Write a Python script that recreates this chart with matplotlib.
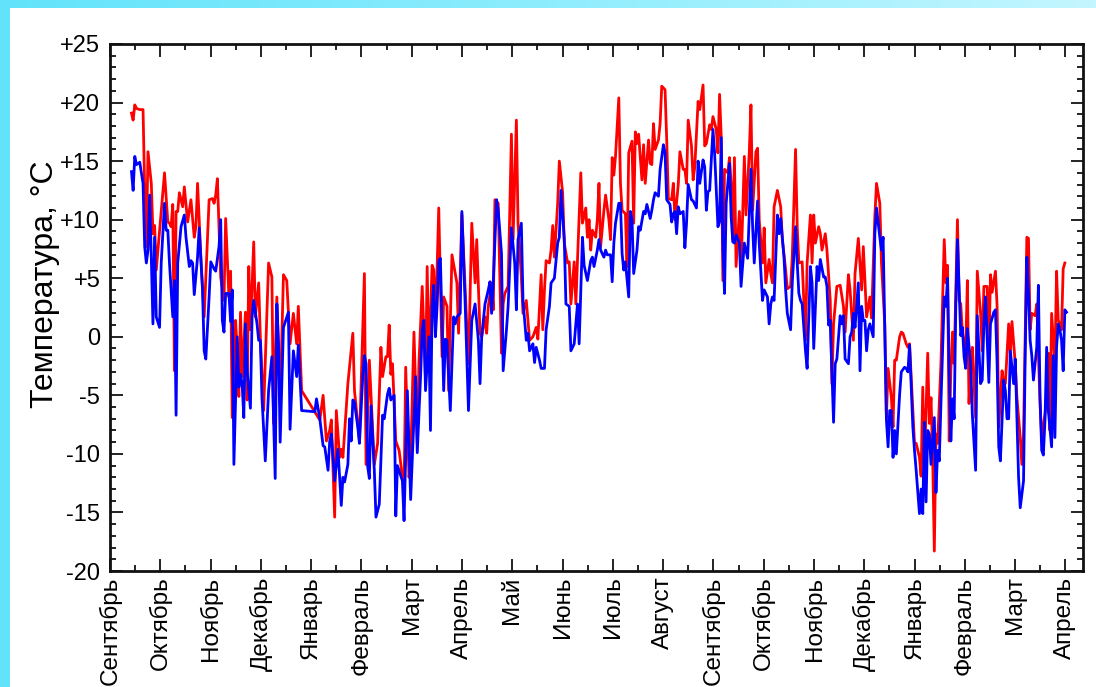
import numpy as np
import matplotlib.pyplot as plt
from matplotlib.colors import LinearSegmentedColormap
from matplotlib.patches import Rectangle
from matplotlib.ticker import FixedLocator, MultipleLocator

plt.rcParams["font.family"] = ["Liberation Sans", "DejaVu Sans"]

MONTHS = ["Сентябрь", "Октябрь", "Ноябрь", "Декабрь", "Январь", "Февраль",
          "Март", "Апрель", "Май", "Июнь", "Июль", "Август", "Сентябрь",
          "Октябрь", "Ноябрь", "Декабрь", "Январь", "Февраль", "Март", "Апрель"]
DAYS_PER_MONTH = 30.44

# (day since 1 Sept, temperature degC)
RED = [
    (13, 19.1), (14, 18.5), (15, 19.8), (16, 19.5), (18, 19.4), (20, 19.4), (21, 12.5), (22, 7.7),
    (23, 15.8), (25, 13.1), (26, 8.8), (27, 9.5), (28, 5.7), (33, 14.0), (35, 9.8), (36, 9.7),
    (37, 9.4), (38, 11.3), (39, -2.9), (40, 10.7), (41, 10.7), (42, 12.3), (44, 11.1), (45, 12.8),
    (47, 9.8), (49, 11.7), (51, 8.5), (52, 9.4), (53, 13.1), (55, 6.8), (57, 1.7), (60, 11.7),
    (62, 11.8), (63, 11.4), (64, 12.1), (65, 13.5), (67, 5.1), (69, 3.1), (70, 10.1), (72, 3.4),
    (73, 5.6), (74, -6.9), (76, 1.4), (77, -1.2), (78, -5.1), (79, 2.1), (80, -3.4), (82, 2.1),
    (83, -5.4), (84, 6.0), (85, 0.6), (87, 8.1), (88, 1.7), (90, 4.6), (91, 0.0), (93, -6.3),
    (96, 6.3), (98, 5.1), (99, -7.4), (101, 3.4), (103, -5.7), (105, 5.3), (107, 4.8), (109, -0.6),
    (111, 2.0), (113, -0.6), (114, 2.6), (116, -4.6), (127, -7.1), (129, -5.0), (131, -8.9),
    (133, -8.0), (134, -7.1), (136, -15.4), (137, -6.3), (139, -10.3), (140, -9.6), (141, -10.3),
    (144, -4.0), (147, 0.3), (148, -4.6), (151, -8.9), (154, 5.4), (155, -10.9), (157, -2.0),
    (159, -8.0), (160, -10.9), (162, -9.1), (164, -0.9), (165, -3.4), (167, -1.7), (168, -1.7),
    (169, 1.0), (170, -3.2), (171, -2.3), (173, -8.9), (175, -9.7), (178, -13.1), (179, -2.6),
    (181, -12.0), (182, -10.6), (184, 0.4), (186, -9.1), (187, -2.3), (189, 4.3), (191, -3.7),
    (192, 6.0), (193, -2.3), (195, 6.1), (196, 5.7), (197, 0.6), (199, 11.0), (201, -1.7),
    (202, 3.4), (204, 2.6), (205, -4.6), (207, 7.0), (209, 5.4), (210, 4.6), (211, 0.3),
    (213, 10.5), (215, 4.0), (217, -2.3), (219, 9.7), (221, 4.6), (222, 8.3), (224, 0.3),
    (225, 0.0), (227, 1.7), (228, 0.3), (229, 2.6), (231, 4.6), (232, 2.3), (233, 11.7),
    (235, 11.4), (237, -1.4), (238, 2.8), (239, 3.7), (241, 4.3), (243, 17.3), (244, 8.3),
    (246, 18.5), (247, 9.7), (249, 5.1), (250, 2.0), (252, 3.1), (254, -0.3), (256, 0.0),
    (258, 0.8), (259, -0.2), (261, 5.3), (262, 0.6), (263, 4.0), (264, 6.5), (266, 6.3),
    (267, 7.4), (268, 9.5), (269, 6.8), (271, 11.4), (272, 15.0), (274, 12.3), (275, 8.0),
    (277, 6.3), (278, 6.4), (279, 2.8), (281, 6.4), (282, 2.8), (285, 14.0), (286, 9.7),
    (288, 11.0), (289, 8.5), (290, 10.0), (291, 7.4), (292, 9.1), (294, 8.5), (295, 10.0),
    (296, 13.1), (297, 7.7), (299, 10.8), (300, 12.1), (302, 10.0), (303, 8.3), (304, 15.3),
    (305, 13.8), (306, 15.4), (308, 20.4), (309, 13.1), (310, 10.8), (312, 10.5), (313, 6.0),
    (314, 15.7), (316, 16.7), (317, 9.7), (318, 17.5), (319, 16.5), (320, 17.3), (322, 13.4),
    (323, 16.4), (324, 13.1), (326, 16.8), (327, 14.8), (328, 14.7), (329, 18.2), (330, 16.0),
    (332, 16.8), (333, 18.2), (334, 21.4), (336, 21.1), (337, 16.8), (338, 11.8), (340, 11.7),
    (341, 13.1), (342, 10.0), (344, 13.0), (345, 15.8), (347, 14.3), (348, 14.3), (349, 13.1),
    (350, 18.5), (352, 16.3), (353, 13.4), (354, 14.5), (356, 20.1), (357, 19.4), (359, 21.5),
    (360, 16.3), (361, 16.5), (363, 18.1), (364, 17.7), (365, 18.8), (367, 17.7), (368, 15.7),
    (369, 20.7), (370, 17.1), (371, 4.8), (372, 14.3), (374, 14.0), (375, 15.3), (376, 13.1),
    (377, 8.3), (378, 15.3), (379, 6.0), (381, 10.7), (382, 5.7), (384, 15.4), (385, 10.4),
    (387, 15.8), (388, 19.8), (389, 10.8), (391, 15.8), (392, 16.1), (393, 10.0), (395, 6.3),
    (396, 9.3), (397, 4.6), (399, 6.6), (400, 5.4), (401, 4.6), (402, 11.1), (404, 12.5),
    (406, 11.1), (407, 8.3), (409, 5.7), (410, 4.1), (412, 4.3), (413, 6.8), (415, 16.0),
    (416, 9.4), (417, 6.3), (419, 6.4), (420, 3.1), (421, -0.3), (422, 6.3), (424, 10.4),
    (425, 6.3), (426, 10.4), (427, 8.0), (429, 9.4), (430, 8.8), (431, 7.4), (433, 8.8),
    (434, 7.4), (436, 3.1), (437, -4.0), (438, 1.1), (440, 4.3), (442, 4.4), (444, 2.6),
    (445, 0.4), (447, 5.3), (448, 4.0), (450, -0.3), (451, 5.4), (453, 8.4), (455, 4.0),
    (456, 7.7), (457, 4.8), (458, 1.7), (460, 3.4), (461, 1.6), (463, 10.3), (464, 13.1),
    (466, 11.4), (467, 6.3), (469, 1.1), (470, -6.9), (471, -2.7), (473, -5.2), (474, -7.7),
    (475, -2.0), (476, -2.0), (478, 0.0), (479, 0.4), (480, 0.3), (482, -0.6), (483, -0.9),
    (484, -0.6), (486, -6.3), (487, -9.1), (488, -9.1), (490, -10.3), (491, -11.9), (492, -4.3),
    (493, -11.1), (495, -1.4), (496, -7.4), (497, -5.2), (498, -10.3), (499, -18.3), (500, -8.3),
    (501, -9.1), (503, -2.3), (504, 3.1), (505, 8.3), (506, 4.6), (507, 6.1), (508, -8.9),
    (509, -2.9), (510, 0.4), (511, -2.3), (513, 10.0), (514, 3.1), (515, 2.8), (516, 0.3),
    (518, -1.2), (519, 4.8), (520, -5.7), (521, -2.3), (522, -0.9), (524, -6.9), (525, 5.6),
    (527, 2.0), (528, -1.2), (529, 4.3), (531, 4.3), (532, -1.4), (533, 5.3), (534, 3.8),
    (536, 5.6), (537, 2.6), (538, -7.7), (540, -2.9), (541, -4.0), (542, -4.0), (544, 1.1),
    (545, -1.4), (546, 1.3), (548, -2.3), (549, -5.2), (551, -8.6), (552, -10.9), (553, -8.3),
    (555, 8.5), (556, 8.4), (557, 0.6), (558, 2.0), (560, 1.8), (561, 2.8), (563, -5.7),
    (564, -8.6), (566, -6.6), (567, -5.2), (568, -1.4), (569, -8.0), (570, 2.0), (572, -2.3),
    (573, 5.6), (574, 1.4), (575, 1.1), (576, 0.6), (577, 5.8), (578, 6.3),
]

BLUE = [
    (13, 14.1), (14, 12.5), (15, 15.4), (16, 14.7), (18, 14.9), (20, 13.1), (21, 7.7), (22, 6.3),
    (23, 7.4), (24, 12.1), (25, 6.8), (26, 1.1), (27, 8.5), (28, 1.7), (30, 0.8), (31, 6.3),
    (33, 11.4), (34, 9.1), (35, 9.1), (36, 6.3), (38, 1.7), (39, 4.8), (40, -6.7), (41, 6.3),
    (43, 9.4), (45, 10.4), (46, 8.5), (48, 6.0), (49, 6.5), (50, 6.3), (51, 3.6), (53, 6.8),
    (54, 9.3), (56, 4.0), (57, -1.2), (58, -1.9), (60, 3.4), (61, 6.4), (63, 5.8), (64, 5.6),
    (66, 7.7), (67, 10.0), (68, 1.4), (69, 0.4), (70, 3.7), (72, 3.7), (73, 1.3), (74, 4.0),
    (75, -10.9), (77, 0.0), (78, -4.3), (79, -3.2), (80, -4.0), (81, -6.9), (82, 1.1), (83, -2.9),
    (85, -6.1), (86, 1.7), (87, 3.1), (89, 1.1), (90, -0.3), (91, -0.3), (92, -5.2), (94, -10.6),
    (96, -4.6), (98, -1.7), (100, -12.1), (101, 2.8), (102, -0.6), (103, -9.0), (105, 0.8),
    (108, 2.1), (109, -7.9), (111, -1.2), (113, -3.4), (114, -0.7), (116, -6.3), (124, -6.4),
    (125, -5.3), (127, -7.0), (129, -9.3), (130, -9.4), (132, -11.4), (133, -8.9), (134, -8.3),
    (136, -12.3), (138, -9.6), (140, -14.4), (141, -12.0), (142, -12.4), (144, -10.9), (145, -7.0),
    (146, -8.9), (147, -5.4), (148, -5.6), (150, -7.7), (151, -9.1), (153, -3.4), (154, -1.6),
    (155, -2.3), (156, -11.1), (157, -12.1), (158, -5.9), (160, -11.4), (161, -15.4), (163, -14.3),
    (165, -6.7), (166, -7.0), (168, -4.9), (169, -4.4), (170, -5.4), (172, -5.0), (173, -15.3),
    (174, -11.0), (177, -12.3), (178, -15.7), (180, -4.6), (182, -13.9), (185, -3.4), (186, -9.9),
    (188, -3.4), (189, 0.6), (190, 1.4), (191, -4.6), (193, 0.0), (194, -8.0), (195, 2.6),
    (196, 4.4), (197, 0.0), (198, 2.6), (199, 6.5), (200, 6.7), (202, -4.6), (203, -0.2),
    (204, -0.3), (206, -6.3), (208, 1.7), (209, 1.1), (210, 1.7), (212, 2.0), (213, 10.7),
    (215, 2.8), (217, -6.3), (219, 1.4), (221, 2.8), (223, -0.3), (224, -4.0), (225, 0.0),
    (227, 2.8), (229, 4.0), (230, 4.7), (231, 2.0), (232, 4.6), (234, 11.7), (235, 10.8),
    (237, 7.1), (238, -2.9), (240, 0.6), (241, 2.6), (243, 9.3), (245, 6.3), (246, 2.3),
    (247, 8.3), (249, 9.7), (250, 3.1), (252, -0.3), (253, 0.3), (254, -1.2), (256, -0.6),
    (257, -2.2), (258, -0.9), (260, -2.0), (261, -2.7), (263, -2.7), (264, 0.6), (266, 2.6),
    (267, 4.6), (269, 5.0), (271, 8.0), (272, 8.5), (273, 12.5), (275, 8.3), (276, 2.8),
    (278, 2.6), (279, -1.2), (281, -0.6), (283, 2.8), (284, -0.6), (286, 8.5), (287, 6.1),
    (289, 4.8), (291, 6.5), (292, 6.8), (293, 6.0), (295, 7.4), (296, 8.3), (297, 7.4),
    (299, 6.8), (300, 7.4), (301, 7.0), (303, 7.0), (304, 4.7), (305, 8.0), (306, 9.7),
    (308, 11.4), (309, 11.4), (310, 7.1), (311, 5.7), (312, 6.4), (314, 3.4), (315, 10.7),
    (316, 10.0), (317, 5.4), (319, 7.4), (320, 9.4), (321, 9.1), (323, 10.7), (324, 10.5),
    (325, 11.3), (327, 10.1), (328, 10.8), (329, 11.7), (330, 12.3), (332, 12.0), (333, 14.3),
    (335, 16.4), (336, 15.7), (337, 11.7), (339, 11.3), (340, 9.8), (341, 10.5), (342, 10.7),
    (343, 8.8), (344, 11.1), (345, 10.5), (347, 10.7), (348, 7.6), (349, 9.7), (350, 13.0),
    (352, 11.7), (353, 11.6), (355, 11.0), (356, 15.0), (357, 13.1), (359, 15.1), (360, 14.5),
    (361, 10.8), (362, 12.4), (363, 12.5), (365, 17.7), (366, 15.7), (367, 12.5), (368, 9.4),
    (369, 9.8), (370, 17.0), (371, 7.7), (372, 3.7), (373, 11.4), (375, 14.8), (376, 10.3),
    (377, 8.1), (378, 8.0), (379, 8.7), (381, 8.0), (382, 4.3), (384, 8.0), (386, 6.7),
    (387, 10.5), (388, 14.3), (389, 9.4), (390, 6.3), (392, 11.6), (393, 8.0), (395, 3.1),
    (396, 4.0), (398, 3.4), (399, 1.1), (400, 2.8), (401, 3.4), (402, 3.1), (404, 10.4),
    (405, 8.8), (406, 10.1), (408, 6.8), (409, 4.0), (410, 2.0), (412, 0.6), (413, 4.6),
    (415, 9.4), (416, 6.3), (417, 3.7), (418, 3.1), (419, 2.8), (421, -1.2), (422, -2.7),
    (424, 6.0), (425, 4.6), (426, -1.0), (428, 6.0), (429, 4.8), (430, 6.6), (432, 5.1),
    (433, 5.1), (434, 4.3), (435, 1.0), (436, 1.4), (437, -2.9), (438, -7.3), (439, -2.3),
    (440, -1.9), (442, 1.8), (443, 1.1), (444, 1.8), (445, -1.9), (447, -2.3), (448, 0.0),
    (449, 0.4), (450, 2.0), (451, 0.8), (453, 4.6), (454, -2.9), (455, 2.6), (456, 1.4),
    (457, 1.4), (458, -1.2), (459, 0.6), (460, 1.1), (462, 0.0), (463, 8.8), (464, 11.0),
    (466, 8.5), (467, 7.4), (468, 8.5), (469, 0.6), (470, -7.1), (471, -9.4), (472, -6.3),
    (473, -6.3), (474, -10.3), (475, -8.0), (476, -10.0), (478, -4.9), (479, -3.0), (481, -2.6),
    (482, -2.7), (483, -3.0), (484, -0.7), (486, -7.7), (487, -9.7), (488, -11.4), (490, -15.1),
    (491, -13.0), (492, -15.1), (493, -7.3), (494, -14.1), (495, -8.0), (496, -8.3), (497, -10.9),
    (499, -6.9), (500, -13.3), (501, -9.7), (502, -10.6), (503, -5.7), (505, 3.4), (506, 2.6),
    (507, 5.0), (508, -2.9), (509, -8.9), (510, -5.3), (511, -7.0), (512, 2.6), (513, 8.3),
    (515, 0.1), (516, 0.8), (517, -1.7), (518, -2.7), (519, 0.7), (521, -2.3), (522, -6.6),
    (524, -11.4), (525, 1.8), (527, -4.0), (528, -3.7), (529, 1.1), (530, 3.4), (532, -3.9),
    (533, 1.1), (535, 2.1), (536, 2.3), (537, -2.3), (538, -9.4), (539, -10.6), (541, -3.7),
    (542, -4.6), (543, -7.0), (544, -7.0), (545, -1.2), (547, -4.0), (548, -1.9), (549, -6.9),
    (550, -12.0), (551, -14.6), (553, -12.3), (554, -1.7), (555, 6.8), (556, 3.7), (557, -0.3),
    (558, -1.6), (559, -3.7), (561, -0.9), (562, 4.4), (563, -5.2), (564, -9.7), (565, -10.1),
    (566, -7.1), (567, -0.9), (568, -6.3), (570, -9.4), (571, -1.6), (572, -8.6), (573, -0.9),
    (574, 1.1), (575, 0.6), (576, -0.3), (577, -2.9), (578, 2.3), (579, 2.1),
]

Y_TICKS = list(range(-20, 26, 5))


def main() -> None:
    red_day, red_temp = map(np.array, zip(*RED))
    blue_day, blue_temp = map(np.array, zip(*BLUE))

    W, H = 1096, 687
    fig = plt.figure(figsize=(W / 100, H / 100), dpi=100)
    fig.patch.set_facecolor("white")

    # cyan frame: left strip and top gradient band
    fig.patches.append(Rectangle((0, 0), 10 / W, 1, transform=fig.transFigure,
                                 facecolor="#62e3fb", edgecolor="none", zorder=0))
    band = fig.add_axes([0, 1 - 8 / H, 1, 8 / H])
    cmap = LinearSegmentedColormap.from_list("band", ["#62e3fb", "#8eedfd", "#c4f6ff"])
    band.imshow(np.linspace(0, 1, 256)[None, :], aspect="auto", cmap=cmap)
    band.axis("off")

    ax = fig.add_axes([110 / W, 1 - 571 / H, 973 / W, 527 / H])
    ax.plot(red_day, red_temp, color="#ff0000", lw=2.0, solid_joinstyle="round")
    ax.plot(blue_day, blue_temp, color="#0000ff", lw=2.0, solid_joinstyle="round")

    month_pos = np.arange(len(MONTHS)) * DAYS_PER_MONTH
    ax.set_xlim(0, 589)
    ax.set_ylim(-20, 25)
    ax.set_xticks(month_pos)
    ax.set_xticklabels(MONTHS, rotation=90, fontsize=17.5)
    ax.xaxis.set_minor_locator(FixedLocator(month_pos + DAYS_PER_MONTH / 2))
    ax.set_yticks(Y_TICKS)
    ax.set_yticklabels([f"+{v}" if v > 0 else str(v) for v in Y_TICKS], fontsize=17)
    ax.yaxis.set_minor_locator(MultipleLocator(1))

    ax.tick_params(which="both", direction="in", top=True, right=True, width=1.3, color="#111111")
    ax.tick_params(which="major", length=9)
    ax.tick_params(which="minor", length=4.5)
    ax.tick_params(axis="y", pad=7)
    ax.tick_params(axis="x", pad=4)
    for sp in ax.spines.values():
        sp.set_linewidth(2.0)
        sp.set_color("#111111")

    ax.set_ylabel("Температура, °С", fontsize=23)
    ax.yaxis.set_label_coords(-0.051, 0.545)

    fig.savefig("out.png", dpi=100, facecolor=fig.get_facecolor())
    plt.close(fig)


if __name__ == "__main__":
    main()
